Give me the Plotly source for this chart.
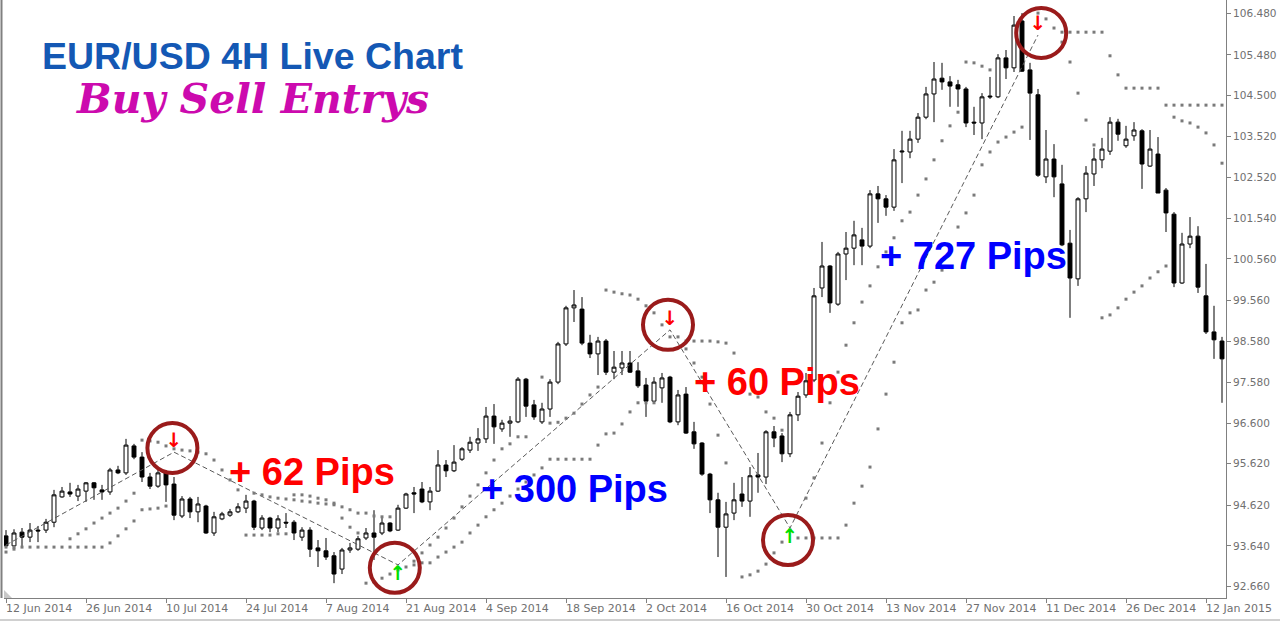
import plotly.graph_objects as go

# ---------------- data ----------------
bars = list(range(153))

opens = [93.88, 93.64, 93.97, 93.85, 94.02, 94.02, 94.21, 94.82, 94.94, 94.84,
         94.96, 95.16, 94.99, 94.94, 95.47, 95.40, 96.05, 95.78, 95.30, 95.08,
         95.40, 95.13, 94.36, 94.77, 94.46, 94.60, 93.95, 94.29, 94.38, 94.46,
         94.55, 94.72, 94.07, 94.31, 94.07, 94.21, 94.21, 93.85, 94.02, 93.59,
         93.52, 93.40, 93.08, 93.54, 93.56, 93.83, 93.95, 93.95, 94.19, 94.02,
         94.55, 94.92, 95.01, 94.70, 94.96, 95.59, 95.45, 95.73, 95.95, 96.12,
         96.22, 96.77, 96.46, 96.60, 96.63, 97.66, 97.04, 96.63, 96.94, 97.59,
         98.51, 99.38, 99.35, 98.53, 98.27, 98.58, 97.83, 97.93, 98.05, 97.86,
         97.52, 97.13, 97.45, 97.71, 96.63, 97.30, 96.39, 96.12, 95.37, 94.75,
         94.09, 94.43, 94.89, 94.72, 95.35, 95.30, 96.39, 96.29, 95.86, 96.80,
         97.28, 97.64, 99.86, 100.39, 99.47, 100.68, 100.82, 101.02, 100.87, 102.13,
         102.01, 101.81, 103.14, 103.14, 103.45, 103.98, 104.54, 104.92, 104.83, 104.76,
         104.66, 103.86, 103.84, 104.49, 104.47, 105.41, 105.17, 106.30, 105.12, 104.52,
         102.54, 102.97, 102.37, 100.94, 100.08, 102.01, 102.61, 102.95, 103.16, 103.86,
         103.29, 103.53, 103.65, 102.80, 103.09, 102.22, 101.64, 99.98, 100.92, 101.11,
         99.67, 98.80, 98.58]
highs = [94.02, 94.04, 94.07, 94.19, 94.12, 94.29, 94.99, 95.06, 95.16, 95.11,
         95.18, 95.18, 95.11, 95.52, 95.57, 96.22, 96.10, 95.90, 95.40, 95.49,
         95.47, 95.30, 94.84, 94.82, 94.82, 94.63, 94.46, 94.46, 94.53, 94.67,
         94.87, 94.75, 94.38, 94.34, 94.38, 94.43, 94.26, 94.09, 94.09, 93.78,
         93.83, 93.49, 93.59, 93.71, 93.88, 94.07, 94.50, 94.34, 94.21, 94.63,
         94.92, 95.06, 95.18, 95.06, 95.95, 95.71, 96.07, 96.02, 96.27, 96.48,
         96.99, 97.06, 96.68, 96.77, 97.71, 97.69, 97.16, 97.09, 97.66, 98.56,
         99.43, 99.81, 99.64, 98.73, 98.68, 98.63, 98.34, 98.34, 98.34, 98.07,
         97.69, 97.71, 97.81, 97.74, 97.40, 97.47, 96.63, 96.14, 95.40, 94.92,
         94.70, 95.16, 95.30, 95.54, 95.88, 96.43, 96.53, 96.36, 96.87, 97.35,
         97.81, 99.86, 100.97, 100.41, 100.73, 101.21, 101.48, 101.31, 102.22, 102.32,
         102.10, 103.21, 103.65, 103.65, 104.08, 104.71, 105.31, 105.29, 104.97, 104.88,
         104.71, 104.23, 104.56, 104.95, 105.50, 105.60, 106.42, 106.49, 105.29, 104.66,
         103.67, 103.33, 102.83, 101.26, 102.05, 102.80, 103.24, 103.48, 103.98, 103.94,
         103.77, 103.86, 103.69, 103.67, 103.50, 102.27, 101.69, 101.19, 101.57, 101.35,
         100.44, 99.43, 98.68]
lows = [93.59, 93.54, 93.59, 93.73, 93.73, 93.95, 94.09, 94.80, 94.82, 94.72,
        94.70, 94.75, 94.75, 94.87, 95.37, 95.35, 95.73, 95.18, 95.01, 95.04,
        94.70, 94.26, 94.31, 94.31, 94.21, 93.93, 93.88, 94.26, 94.34, 94.43,
        94.43, 94.02, 94.02, 93.97, 93.97, 94.07, 93.78, 93.76, 93.37, 93.13,
        93.30, 92.74, 92.96, 93.47, 93.52, 93.78, 93.30, 93.90, 93.97, 94.00,
        94.53, 94.43, 94.67, 94.50, 94.94, 95.30, 95.42, 95.69, 95.88, 95.93,
        96.12, 96.10, 96.39, 96.27, 96.60, 96.75, 96.68, 96.58, 96.75, 97.54,
        98.46, 99.04, 98.48, 98.17, 97.76, 97.76, 97.66, 97.76, 97.81, 97.45,
        96.75, 97.09, 97.09, 96.60, 96.55, 96.34, 95.98, 95.33, 94.43, 93.37,
        92.89, 94.26, 94.58, 94.34, 94.92, 95.13, 96.02, 95.66, 95.78, 96.65,
        97.21, 97.59, 99.64, 99.26, 99.43, 100.05, 100.41, 100.41, 100.82, 101.43,
        101.60, 101.72, 102.39, 102.99, 103.36, 103.93, 103.86, 104.64, 104.23, 104.23,
        103.74, 103.55, 103.45, 104.42, 104.44, 104.90, 105.07, 105.07, 103.43, 102.54,
        102.39, 102.05, 100.87, 99.14, 99.91, 101.69, 102.32, 102.75, 103.07, 103.41,
        103.24, 103.41, 102.25, 102.78, 102.15, 101.21, 99.88, 99.96, 100.82, 99.74,
        98.75, 98.15, 97.09]
closes = [93.64, 93.95, 93.85, 94.02, 94.00, 94.21, 94.87, 94.96, 94.89, 95.01,
          95.16, 95.04, 94.94, 95.47, 95.40, 96.07, 95.78, 95.30, 95.08, 95.40,
          95.11, 94.38, 94.77, 94.46, 94.65, 93.95, 94.34, 94.41, 94.46, 94.58,
          94.72, 94.09, 94.31, 94.07, 94.29, 94.19, 93.95, 94.02, 93.56, 93.52,
          93.37, 92.96, 93.54, 93.59, 93.81, 93.95, 93.85, 94.19, 94.00, 94.55,
          94.89, 94.89, 94.70, 94.96, 95.59, 95.45, 95.66, 95.98, 96.14, 96.22,
          96.77, 96.51, 96.60, 96.65, 97.66, 97.01, 96.75, 96.94, 97.59, 98.51,
          99.38, 99.45, 98.53, 98.27, 98.58, 97.83, 97.95, 98.05, 97.83, 97.50,
          97.13, 97.59, 97.69, 96.63, 97.28, 96.36, 96.10, 95.37, 94.75, 94.09,
          94.41, 94.75, 94.72, 95.33, 95.30, 96.39, 96.24, 95.86, 96.80, 97.25,
          97.62, 99.67, 100.39, 99.50, 100.68, 100.82, 101.14, 100.87, 102.13, 102.01,
          101.81, 102.95, 103.16, 103.45, 103.98, 104.54, 104.90, 104.83, 104.73, 104.66,
          103.84, 103.84, 104.47, 104.47, 105.41, 105.17, 106.20, 105.09, 104.56, 102.58,
          102.97, 102.54, 100.90, 100.10, 102.01, 102.63, 102.97, 103.21, 103.86, 103.57,
          103.45, 103.67, 102.85, 103.21, 102.15, 101.67, 99.98, 100.92, 101.11, 99.88,
          98.80, 98.61, 98.15]

N = None
sar_slow = ([93.61] * 13 +
            [93.71, 93.88, 94.05, 94.24, 94.51, 94.53, 94.55, 94.60] +
            [N] * 10 +
            [94.91, 94.87, 94.82, 94.79, 94.77, 94.75, 94.72, 94.70, 94.67, 94.65,
             94.63, 94.58, 94.51, 94.43, 94.43, 94.36, 94.34, 94.34] +
            [N, N] +
            [93.27, 93.47, 93.66, 93.85, 94.07, 94.31, 94.58, 94.84, 95.11, 95.40,
             95.71, 95.98, 96.10, 96.27, 96.27] +
            [N] +
            [97.71, 96.60, 96.62, 96.72, 96.84, 97.06, 97.28, 97.47] +
            [99.81, 99.76, 99.72, 99.69, 99.59, 99.43, 99.26, 98.97] +
            [N, N] +
            [98.39, 98.05, 97.71, 97.06, 96.31, 95.64] +
            [N] +
            [92.89, 92.94, 93.03, 93.20, 93.47, 93.73, 94.02, 93.83, 93.83, 93.83,
             93.83, 93.83, 93.83, 94.14, 94.67, 95.08, 95.54, 96.46, 97.30, 98.07,
             99.02, 99.26, 99.33, 99.81, 100.00, 100.29, 100.87, 101.33, 101.67, 102.10,
             102.83, 103.14, 103.38, 103.50, 103.62, 103.74] +
            [N] +
            [106.49, 106.35, 106.13, 106.03, 106.03, 106.03, 106.03, 106.03, 106.03, 105.46,
             105.00, 104.68, 104.68, 104.68, 104.68, 104.68] +
            [104.27] * 8)

sar_fast = ([93.49, 93.56] + [N] * 6 +
            [93.81, 93.93, 94.05, 94.19, 94.31, 94.43, 94.55, 94.72, 94.91,
             96.19, 96.17, 96.14, 96.05, 95.98, 95.95, 95.93, 95.90, 95.86, 95.71,
             95.47, 95.23, 94.99, 93.90, 93.90, 93.90, 93.90, 93.93, 93.93, 94.87,
             94.87, 94.84, 94.79, 94.75, 94.67, 94.31, 94.09, 93.95, 92.74, 92.77,
             92.86, 92.96, 93.06, 93.13, 93.18, 93.23, 93.23, 93.37, 93.49, 93.61,
             93.73, 93.95, 94.14, 94.34, 94.51, 94.67, 94.84, 95.01, 95.18, 95.35,
             95.52, 95.73, 95.73, 95.73, 95.73, 95.73, 95.73, 96.07, 96.34, 96.36,
             96.58, 96.87, 97.09, 97.09, 97.09] +
            [N] +
            [98.68, 98.68, 98.58, 98.58, 98.58, 98.58, 98.56, 98.53, 98.29, 97.64,
             97.30, 97.23, 96.87, 96.72, 96.43] +
            [N, N] +
            [94.79, 95.28, 96.12, 97.09, 97.83, 98.48, 99.02, 99.52, 99.91, 100.37,
             100.73, 101.07, 101.48, 101.69, 102.10, 102.49, 102.95, 103.41, 103.77, 104.10,
             105.31, 105.29, 105.21, 105.12] +
            [N] * 8 +
            [105.79, 105.31, 104.56, 103.91, 103.31, 99.14, 99.21, 99.38, 99.59, 99.76,
             99.91, 100.10, 100.25, 100.39, 103.98, 103.89, 103.84, 103.74, 103.60, 103.31,
             102.87])

date_bars = [0, 10, 20, 30, 40, 50, 60, 70, 80, 90, 100, 110, 120, 130, 140, 150]
date_labels = ["12 Jun 2014", "26 Jun 2014", "10 Jul 2014", "24 Jul 2014", "7 Aug 2014",
               "21 Aug 2014", "4 Sep 2014", "18 Sep 2014", "2 Oct 2014", "16 Oct 2014",
               "30 Oct 2014", "13 Nov 2014", "27 Nov 2014", "11 Dec 2014", "26 Dec 2014",
               "12 Jan 2015"]

price_ticks = [92.66, 93.64, 94.62, 95.62, 96.60, 97.58, 98.58, 99.56, 100.56,
               101.54, 102.52, 103.52, 104.50, 105.48, 106.48]

signal_bars = [0, 21, 49, 83, 98, 129]
signal_prices = [93.66, 95.90, 93.18, 98.85, 94.07, 105.96]
sell_bars = [21, 83, 129]
sell_prices = [95.90, 98.85, 105.96]
buy_bars = [49, 98]
buy_prices = [93.18, 94.07]

circle_bars = [20.8, 48.6, 82.75, 97.75, 129.4]
circle_prices = [96.00, 93.11, 98.97, 93.78, 106.01]

pip_texts = ["+ 62 Pips", "+ 300 Pips", "+ 60 Pips", "+ 727 Pips"]
pip_bars = [38.3, 71.0, 96.4, 120.9]
pip_prices = [95.42, 95.00, 97.60, 100.62]
pip_colors = ["#ff0000", "#0000ff", "#ff0000", "#0000ff"]

# ---------------- figure ----------------
fig = go.Figure()

fig.add_trace(go.Candlestick(
    x=bars, open=opens, high=highs, low=lows, close=closes,
    increasing=dict(fillcolor="white", line=dict(color="black", width=1)),
    decreasing=dict(fillcolor="black", line=dict(color="black", width=1)),
    whiskerwidth=0, hoverinfo="skip", showlegend=False))

fig.add_trace(go.Scatter(
    x=signal_bars, y=signal_prices, mode="lines",
    line=dict(color="#5a5a5a", width=1, dash="5px,3px"),
    hoverinfo="skip", showlegend=False))

for series in (sar_slow, sar_fast):
    fig.add_trace(go.Scatter(
        x=bars, y=series, mode="markers",
        marker=dict(symbol="square", size=3, color="#7a7a7a", line=dict(width=0)),
        hoverinfo="skip", showlegend=False))

fig.add_trace(go.Scatter(
    x=sell_bars, y=sell_prices, mode="text", text=["<b>↓</b>"] * len(sell_bars),
    textposition="top center",
    textfont=dict(family="DejaVu Sans", size=20, color="#ff0000"),
    hoverinfo="skip", showlegend=False))
fig.add_trace(go.Scatter(
    x=buy_bars, y=buy_prices, mode="text", text=["<b>↑</b>"] * len(buy_bars),
    textposition="bottom center",
    textfont=dict(family="DejaVu Sans", size=20, color="#00e000"),
    hoverinfo="skip", showlegend=False))

shapes = []
for cb, cp in zip(circle_bars, circle_prices):
    shapes.append(dict(type="circle", xref="x", yref="y",
                       xsizemode="pixel", ysizemode="pixel",
                       xanchor=cb, yanchor=cp, x0=-25, x1=25, y0=-25, y1=25,
                       line=dict(color="#9a1b1b", width=4)))
# window frame lines
shapes.append(dict(type="line", xref="paper", yref="paper",
                   x0=-2.5 / 1222, x1=-2.5 / 1222, y0=0.0, y1=1.0,
                   line=dict(color="#808080", width=2)))
shapes.append(dict(type="line", xref="paper", yref="paper",
                   x0=-4 / 1222, x1=1276 / 1222, y0=-22 / 598, y1=-22 / 598,
                   line=dict(color="#d0d0d0", width=2)))
shapes.append(dict(type="path", xref="paper", yref="paper",
                   path="M 0,0 L %f,0 L 0,%f Z" % (8 / 1222, 8 / 598),
                   fillcolor="#c8c8c8", line=dict(width=0)))

annotations = []
for b, lab in zip(date_bars, date_labels):
    annotations.append(dict(x=b, y=0, xref="x", yref="paper", text=lab,
                            showarrow=False, xanchor="left", yanchor="top",
                            xshift=-2, yshift=-2,
                            font=dict(family="DejaVu Sans", size=11, color="#707070")))
for t, b, p, c in zip(pip_texts, pip_bars, pip_prices, pip_colors):
    annotations.append(dict(x=b, y=p, xref="x", yref="y", text="<b>%s</b>" % t,
                            showarrow=False, xanchor="center", yanchor="middle",
                            font=dict(family="Liberation Sans", size=38, color=c)))
annotations.append(dict(x=248 / 1222, y=1 - 56 / 598, xref="paper", yref="paper",
                        text="<b>EUR/USD 4H Live Chart</b>", showarrow=False,
                        xanchor="center", yanchor="middle",
                        font=dict(family="Liberation Sans", size=37.5, color="#1458b4")))
annotations.append(dict(x=248 / 1222, y=1 - 99 / 598, xref="paper", yref="paper",
                        text="<b><i>Buy Sell Entrys</i></b>", showarrow=False,
                        xanchor="center", yanchor="middle",
                        font=dict(family="DejaVu Serif", size=41, color="#cc0aae")))

fig.update_layout(
    width=1280, height=623,
    margin=dict(l=4, r=54, t=0, b=25, autoexpand=False),
    paper_bgcolor="white", plot_bgcolor="white",
    showlegend=False, hovermode=False,
    shapes=shapes, annotations=annotations,
    xaxis=dict(range=[-0.25, 152.5], showgrid=False, zeroline=False,
               showline=True, linecolor="#808080", linewidth=1,
               ticks="outside", ticklen=4, tickcolor="#808080",
               tickvals=date_bars, showticklabels=False,
               rangeslider=dict(visible=False), fixedrange=True),
    yaxis=dict(range=[92.382, 106.806], side="right", showgrid=False, zeroline=False,
               showline=True, linecolor="#808080", linewidth=1,
               ticks="outside", ticklen=4, tickcolor="#808080",
               tickvals=price_ticks, tickformat=".3f",
               tickfont=dict(family="DejaVu Sans", size=10.5, color="#707070"),
               fixedrange=True),
)

fig.write_html("out.html",
               config={"displayModeBar": False, "staticPlot": True},
               post_script="document.body.style.margin='0';"
                           "document.body.style.overflow='hidden';")
